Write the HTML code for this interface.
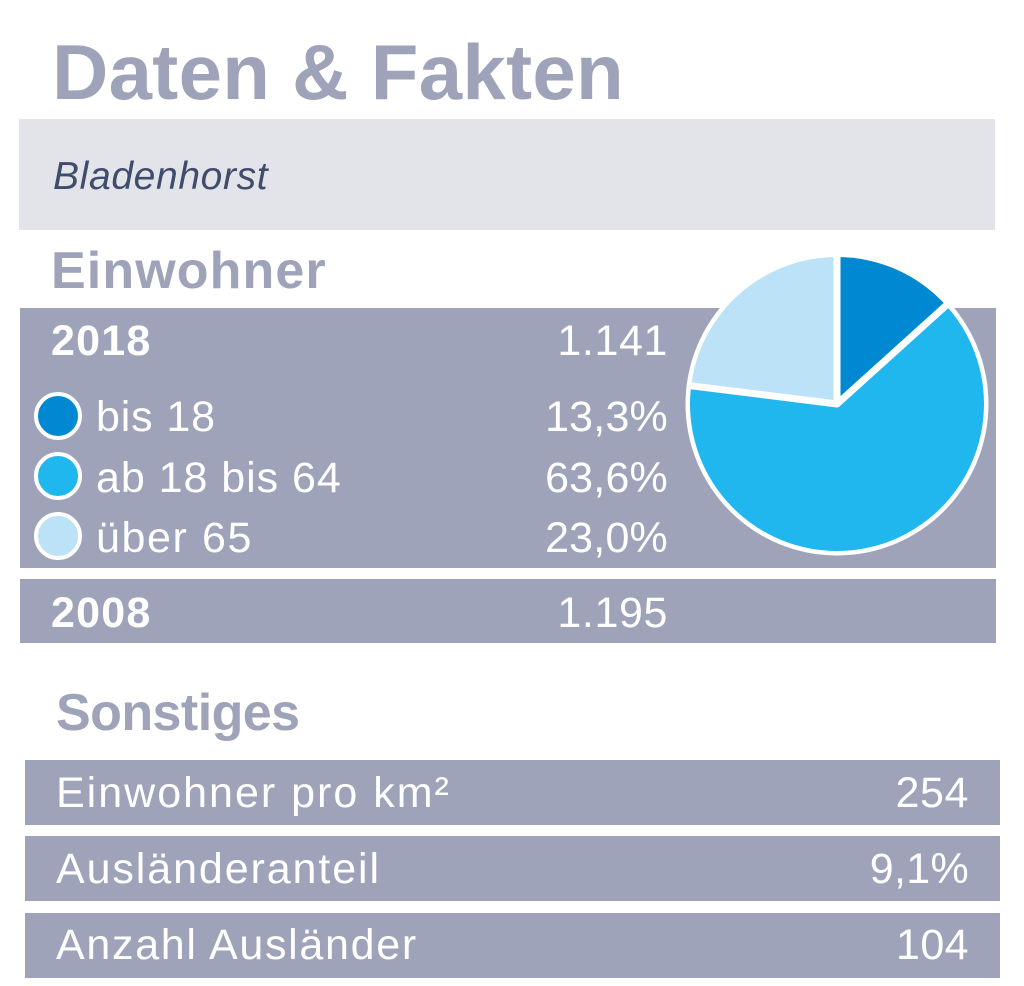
<!DOCTYPE html>
<html lang="de">
<head>
<meta charset="utf-8">
<title>Daten &amp; Fakten</title>
<style>
html,body{margin:0;padding:0;background:#fff}
#stage{position:relative;width:1024px;height:986px;overflow:hidden;background:#fff;font-family:"Liberation Sans","DejaVu Sans",sans-serif}
.t{position:absolute;white-space:nowrap;line-height:1}
.bar{position:absolute;background:#9ea3b9}
.w{color:#fff;font-size:43px}
.r{text-align:right}
.h{color:#9ea3b9;font-weight:bold}
.dot{position:absolute;width:40px;height:40px;border:4px solid #fff;border-radius:50%}
</style>
</head>
<body>
<div id="stage">
  <div class="t h" style="left:52px;top:33px;font-size:78px;letter-spacing:.3px;">Daten &amp; Fakten</div>
  <div style="position:absolute;left:19px;top:119px;width:976px;height:111px;background:#e2e4ea"></div>
  <div class="t" style="left:53px;top:157px;font-size:39px;font-style:italic;color:#3f4c6b;letter-spacing:.65px;">Bladenhorst</div>

  <div class="t h" style="left:51px;top:245px;font-size:52px;letter-spacing:1.1px;">Einwohner</div>
  <div class="bar" style="left:20px;top:308px;width:976px;height:260px"></div>
  <div class="bar" style="left:20px;top:579px;width:976px;height:64px"></div>

  <div class="t w" style="left:51px;top:320px;font-weight:bold;letter-spacing:1.2px;">2018</div>
  <div class="t w r" style="right:356px;top:320px;letter-spacing:.6px;">1.141</div>

  <div class="dot" style="left:34px;top:392px;background:#0089d2"></div>
  <div class="t w" style="left:96px;top:396px;letter-spacing:.85px;">bis 18</div>
  <div class="t w r" style="right:356px;top:396px;letter-spacing:.2px;">13,3%</div>

  <div class="dot" style="left:34px;top:452px;background:#1fb7ee"></div>
  <div class="t w" style="left:96px;top:457px;letter-spacing:.95px;">ab 18 bis 64</div>
  <div class="t w r" style="right:356px;top:457px;letter-spacing:.2px;">63,6%</div>

  <div class="dot" style="left:34px;top:512px;background:#bce2f8"></div>
  <div class="t w" style="left:96px;top:517px;letter-spacing:1.6px;">über 65</div>
  <div class="t w r" style="right:356px;top:517px;letter-spacing:.2px;">23,0%</div>

  <div class="t w" style="left:51px;top:592px;font-weight:bold;letter-spacing:1.2px;">2008</div>
  <div class="t w r" style="right:356px;top:592px;letter-spacing:.6px;">1.195</div>

  <svg id="pie" width="1024" height="986" style="position:absolute;left:0;top:0"></svg>

  <div class="t h" style="left:56px;top:687px;font-size:52px;letter-spacing:-.55px;">Sonstiges</div>

  <div class="bar" style="left:25px;top:760px;width:975px;height:65px"></div>
  <div class="t w" style="left:56px;top:772px;letter-spacing:2px;">Einwohner pro km²</div>
  <div class="t w r" style="right:55px;top:772px;letter-spacing:.6px;">254</div>

  <div class="bar" style="left:25px;top:836px;width:975px;height:65px"></div>
  <div class="t w" style="left:56px;top:848px;letter-spacing:1.9px;">Ausländeranteil</div>
  <div class="t w r" style="right:55px;top:848px;letter-spacing:.3px;">9,1%</div>

  <div class="bar" style="left:25px;top:913px;width:975px;height:65px"></div>
  <div class="t w" style="left:56px;top:924px;letter-spacing:1.7px;">Anzahl Ausländer</div>
  <div class="t w r" style="right:55px;top:924px;letter-spacing:.4px;">104</div>
</div>
<script>
const categories = ['bis 18', 'ab 18 bis 64', 'über 65'];
const shares = [13.3, 63.6, 23.0];
const sliceColors = ['#0089d2', '#1fb7ee', '#bce2f8'];

const NS = 'http://www.w3.org/2000/svg';
const svg = document.getElementById('pie');
const cx = 837, cy = 404, radius = 147;
const total = shares.reduce(function (a, b) { return a + b; }, 0);

function angleOf(value) {
  return value / total * 2 * Math.PI;
}
function px(a, r) {
  return cx + r * Math.sin(a);
}
function py(a, r) {
  return cy - r * Math.cos(a);
}

const backing = document.createElementNS(NS, 'circle');


backing.setAttribute('cx', cx);
backing.setAttribute('cy', cy);
backing.setAttribute('r', radius + 4.5);
backing.setAttribute('fill', '#fff');
svg.appendChild(backing);

let running = 0;
const boundaries = [];
shares.forEach(function (v, i) {
  const a0 = angleOf(running);
  running += v;
  const a1 = angleOf(running);
  boundaries.push(a0);
  const large = a1 - a0 > Math.PI ? 1 : 0;
  const slice = document.createElementNS(NS, 'path');
  
  
  slice.setAttribute('d', 'M' + cx + ' ' + cy + 'L' + px(a0, radius) + ' ' + py(a0, radius) + 'A' + radius + ' ' + radius + ' 0 ' + large + ' 1 ' + px(a1, radius) + ' ' + py(a1, radius) + 'Z');
  slice.setAttribute('fill', sliceColors[i]);
  const label = document.createElementNS(NS, 'title');
  label.textContent = categories[i];
  slice.appendChild(label);
  svg.appendChild(slice);
});

boundaries.forEach(function (a) {
  const gap = document.createElementNS(NS, 'line');
  
  
  gap.setAttribute('x1', cx);
  gap.setAttribute('y1', cy);
  gap.setAttribute('x2', px(a, radius + 2));
  gap.setAttribute('y2', py(a, radius + 2));
  gap.setAttribute('stroke', '#fff');
  gap.setAttribute('stroke-width', '7');
  svg.appendChild(gap);
});

const hub = document.createElementNS(NS, 'circle');


hub.setAttribute('cx', cx);
hub.setAttribute('cy', cy);
hub.setAttribute('r', 3.5);
hub.setAttribute('fill', '#fff');
svg.appendChild(hub);
</script>
</body>
</html>
